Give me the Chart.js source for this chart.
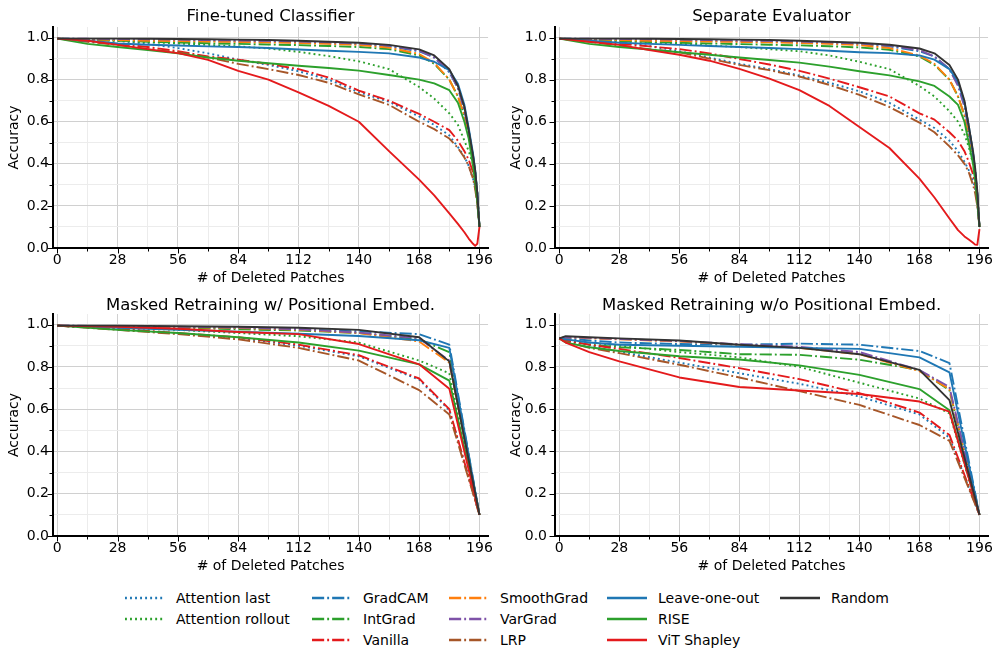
<!DOCTYPE html>
<html>
<head>
<meta charset="utf-8">
<script src="https://cdn.jsdelivr.net/npm/chart.js@4/dist/chart.umd.min.js"></script>
<style>
  html, body { margin: 0; padding: 0; background: #fff; }
  #page { position: relative; width: 997px; height: 648px; overflow: hidden; font-family: "DejaVu Sans", sans-serif; }
  canvas { position: absolute; }
  .leg { position: absolute; height: 20px; display: flex; align-items: center; font-size: 14px; color: #000; white-space: nowrap; }
  .leg svg { margin-right: 11px; }
</style>
</head>
<body>
<div id="page">
  <canvas id="c1" width="497" height="290" style="left:0;top:0"></canvas>
  <canvas id="c2" width="500" height="290" style="left:497px;top:0"></canvas>
  <canvas id="c3" width="497" height="290" style="left:0;top:290px"></canvas>
  <canvas id="c4" width="500" height="290" style="left:497px;top:290px"></canvas>
  <div id="legend"></div>
</div>
<script>
// methods, in plotting order
const methods = ['Attention last', 'Attention rollout', 'GradCAM', 'IntGrad', 'Vanilla', 'SmoothGrad',
  'VarGrad', 'LRP', 'Leave-one-out', 'RISE', 'ViT Shapley', 'Random'];

const xTickValues = [0, 14, 28, 42, 56, 70, 84, 98, 112, 126, 140, 154, 168, 182, 196];
const yTickValues = [0, 0.1, 0.2, 0.3, 0.4, 0.5, 0.6, 0.7, 0.8, 0.9, 1.0];

// patch counts where accuracy was read
const patchesTop = [0, 14, 28, 42, 56, 70, 84, 98, 112, 126, 140, 154, 168, 175, 182, 186, 189, 191, 193, 194, 195, 196];
const patchesMaskedPos = [0, 28, 56, 84, 112, 140, 168, 182, 196];
const patchesMaskedNoPos = [0, 3, 14, 28, 56, 84, 112, 140, 168, 182, 196];

// Fine-tuned Classifier
const ftAttnLast = [0.995, 0.99, 0.985, 0.97, 0.95, 0.925, 0.895, 0.87, 0.84, 0.8, 0.74, 0.695, 0.625, 0.585, 0.535, 0.48, 0.435, 0.39, 0.33, 0.29, 0.22, 0.1];
const ftAttnRollout = [0.995, 0.99, 0.985, 0.978, 0.972, 0.965, 0.958, 0.948, 0.932, 0.912, 0.887, 0.85, 0.765, 0.71, 0.64, 0.585, 0.51, 0.46, 0.4, 0.33, 0.24, 0.1];
const ftGradCam = [0.995, 0.993, 0.99, 0.988, 0.986, 0.984, 0.982, 0.98, 0.977, 0.973, 0.968, 0.958, 0.935, 0.905, 0.835, 0.76, 0.66, 0.56, 0.44, 0.36, 0.26, 0.1];
const ftIntGrad = [0.995, 0.99, 0.985, 0.98, 0.976, 0.973, 0.97, 0.967, 0.964, 0.96, 0.955, 0.945, 0.915, 0.875, 0.8, 0.72, 0.63, 0.54, 0.43, 0.36, 0.26, 0.1];
const ftVanilla = [0.995, 0.985, 0.97, 0.955, 0.935, 0.91, 0.895, 0.875, 0.85, 0.81, 0.748, 0.7, 0.637, 0.6, 0.56, 0.51, 0.46, 0.42, 0.36, 0.3, 0.22, 0.1];
const ftSmoothGrad = [0.995, 0.992, 0.988, 0.985, 0.983, 0.981, 0.979, 0.977, 0.974, 0.97, 0.965, 0.952, 0.922, 0.88, 0.8, 0.72, 0.63, 0.54, 0.43, 0.35, 0.25, 0.1];
const ftVarGrad = [0.995, 0.994, 0.993, 0.992, 0.99, 0.988, 0.986, 0.984, 0.981, 0.977, 0.972, 0.962, 0.938, 0.905, 0.84, 0.76, 0.655, 0.55, 0.43, 0.36, 0.26, 0.1];
const ftLrp = [0.995, 0.98, 0.965, 0.945, 0.93, 0.905, 0.875, 0.85, 0.822, 0.785, 0.73, 0.68, 0.6, 0.565, 0.52, 0.475, 0.43, 0.39, 0.33, 0.28, 0.21, 0.1];
const ftLeaveOneOut = [0.995, 0.985, 0.972, 0.966, 0.962, 0.958, 0.955, 0.95, 0.943, 0.937, 0.932, 0.925, 0.905, 0.885, 0.845, 0.78, 0.68, 0.57, 0.45, 0.37, 0.26, 0.1];
const ftRise = [0.995, 0.97, 0.955, 0.94, 0.925, 0.905, 0.89, 0.878, 0.866, 0.855, 0.843, 0.822, 0.8, 0.782, 0.75, 0.69, 0.6, 0.52, 0.39, 0.31, 0.22, 0.1];
const ftVitShapley = [0.995, 0.985, 0.965, 0.945, 0.926, 0.894, 0.842, 0.8, 0.74, 0.675, 0.6, 0.46, 0.325, 0.25, 0.165, 0.115, 0.075, 0.045, 0.02, 0.01, 0.02, 0.1];
const ftRandom = [0.995, 0.995, 0.995, 0.994, 0.993, 0.992, 0.99, 0.988, 0.985, 0.98, 0.975, 0.965, 0.944, 0.915, 0.85, 0.77, 0.67, 0.56, 0.44, 0.37, 0.26, 0.1];

// Separate Evaluator
const seAttnLast = [0.995, 0.99, 0.98, 0.96, 0.935, 0.905, 0.875, 0.85, 0.82, 0.785, 0.745, 0.69, 0.61, 0.57, 0.51, 0.46, 0.41, 0.37, 0.32, 0.28, 0.21, 0.1];
const seAttnRollout = [0.995, 0.99, 0.985, 0.977, 0.97, 0.962, 0.955, 0.945, 0.935, 0.915, 0.885, 0.85, 0.77, 0.72, 0.65, 0.6, 0.54, 0.48, 0.4, 0.33, 0.24, 0.1];
const seGradCam = [0.995, 0.993, 0.99, 0.988, 0.986, 0.984, 0.982, 0.98, 0.977, 0.973, 0.968, 0.958, 0.935, 0.91, 0.85, 0.78, 0.69, 0.58, 0.45, 0.37, 0.26, 0.1];
const seIntGrad = [0.995, 0.99, 0.984, 0.979, 0.975, 0.972, 0.969, 0.966, 0.963, 0.959, 0.953, 0.942, 0.91, 0.87, 0.8, 0.72, 0.63, 0.54, 0.43, 0.35, 0.25, 0.1];
const seVanilla = [0.995, 0.985, 0.97, 0.958, 0.945, 0.925, 0.898, 0.872, 0.842, 0.805, 0.764, 0.72, 0.64, 0.61, 0.55, 0.51, 0.46, 0.41, 0.35, 0.3, 0.22, 0.1];
const seSmoothGrad = [0.995, 0.992, 0.988, 0.985, 0.983, 0.981, 0.979, 0.977, 0.974, 0.97, 0.964, 0.95, 0.915, 0.875, 0.8, 0.72, 0.63, 0.54, 0.43, 0.35, 0.25, 0.1];
const seVarGrad = [0.995, 0.994, 0.993, 0.992, 0.99, 0.988, 0.986, 0.984, 0.981, 0.977, 0.972, 0.962, 0.94, 0.91, 0.85, 0.77, 0.67, 0.56, 0.44, 0.36, 0.26, 0.1];
const seLrp = [0.995, 0.98, 0.962, 0.945, 0.93, 0.9, 0.87, 0.845, 0.815, 0.775, 0.728, 0.67, 0.596, 0.55, 0.483, 0.44, 0.4, 0.36, 0.3, 0.26, 0.2, 0.1];
const seLeaveOneOut = [0.995, 0.985, 0.975, 0.97, 0.965, 0.96, 0.955, 0.95, 0.945, 0.937, 0.93, 0.926, 0.915, 0.895, 0.85, 0.79, 0.69, 0.58, 0.45, 0.36, 0.25, 0.1];
const seRise = [0.995, 0.97, 0.955, 0.943, 0.93, 0.918, 0.905, 0.893, 0.881, 0.862, 0.84, 0.82, 0.792, 0.77, 0.72, 0.68, 0.6, 0.5, 0.4, 0.32, 0.22, 0.1];
const seVitShapley = [0.995, 0.98, 0.965, 0.94, 0.918, 0.89, 0.851, 0.805, 0.75, 0.675, 0.575, 0.475, 0.33, 0.24, 0.14, 0.085, 0.055, 0.04, 0.025, 0.016, 0.015, 0.09];
const seRandom = [0.995, 0.995, 0.995, 0.994, 0.993, 0.992, 0.99, 0.988, 0.985, 0.98, 0.975, 0.966, 0.948, 0.925, 0.87, 0.8, 0.7, 0.58, 0.46, 0.38, 0.27, 0.1];

// Masked Retraining w/ Positional Embed.
const mpAttnLast = [0.995, 0.978, 0.958, 0.937, 0.9, 0.85, 0.74, 0.595, 0.1];
const mpAttnRollout = [0.995, 0.985, 0.975, 0.96, 0.945, 0.915, 0.83, 0.77, 0.1];
const mpGradCam = [0.995, 0.992, 0.988, 0.984, 0.978, 0.968, 0.955, 0.905, 0.1];
const mpIntGrad = [0.995, 0.99, 0.985, 0.978, 0.972, 0.96, 0.93, 0.87, 0.1];
const mpVanilla = [0.995, 0.98, 0.96, 0.94, 0.905, 0.855, 0.745, 0.6, 0.1];
const mpSmoothGrad = [0.995, 0.99, 0.988, 0.984, 0.976, 0.96, 0.92, 0.82, 0.1];
const mpVarGrad = [0.995, 0.993, 0.99, 0.986, 0.978, 0.962, 0.935, 0.83, 0.1];
const mpLrp = [0.995, 0.975, 0.955, 0.93, 0.89, 0.83, 0.69, 0.575, 0.1];
const mpLeaveOneOut = [0.995, 0.985, 0.975, 0.966, 0.957, 0.946, 0.926, 0.89, 0.1];
const mpRise = [0.995, 0.975, 0.96, 0.94, 0.915, 0.877, 0.812, 0.735, 0.1];
const mpVitShapley = [0.995, 0.99, 0.98, 0.965, 0.955, 0.908, 0.812, 0.697, 0.1];
const mpRandom = [0.995, 0.995, 0.992, 0.99, 0.985, 0.975, 0.94, 0.826, 0.1];

// Masked Retraining w/o Positional Embed.
const mnAttnLast = [0.935, 0.925, 0.9, 0.872, 0.82, 0.77, 0.72, 0.66, 0.575, 0.465, 0.1];
const mnAttnRollout = [0.935, 0.93, 0.915, 0.9, 0.87, 0.845, 0.8, 0.725, 0.65, 0.58, 0.1];
const mnGradCam = [0.935, 0.935, 0.925, 0.915, 0.908, 0.905, 0.91, 0.905, 0.875, 0.818, 0.1];
const mnIntGrad = [0.935, 0.925, 0.905, 0.893, 0.88, 0.86, 0.857, 0.834, 0.785, 0.69, 0.1];
const mnVanilla = [0.935, 0.925, 0.905, 0.885, 0.842, 0.794, 0.742, 0.676, 0.584, 0.478, 0.1];
const mnSmoothGrad = [0.935, 0.94, 0.935, 0.93, 0.92, 0.905, 0.89, 0.86, 0.78, 0.695, 0.1];
const mnVarGrad = [0.935, 0.94, 0.937, 0.932, 0.922, 0.907, 0.895, 0.87, 0.785, 0.705, 0.1];
const mnLrp = [0.935, 0.92, 0.89, 0.865, 0.81, 0.75, 0.685, 0.62, 0.525, 0.45, 0.1];
const mnLeaveOneOut = [0.935, 0.93, 0.915, 0.905, 0.9, 0.895, 0.89, 0.885, 0.845, 0.774, 0.1];
const mnRise = [0.935, 0.915, 0.893, 0.875, 0.85, 0.835, 0.807, 0.762, 0.695, 0.595, 0.1];
const mnVitShapley = [0.935, 0.915, 0.87, 0.826, 0.75, 0.705, 0.688, 0.672, 0.636, 0.588, 0.1];
const mnRandom = [0.935, 0.945, 0.94, 0.935, 0.925, 0.905, 0.89, 0.86, 0.786, 0.643, 0.1];

const BLUE = '#1f77b4', GREEN = '#2ca02c', RED = '#e41a1c', ORANGE = '#ff7f0e',
  PURPLE = '#7e52a8', BROWN = '#a65628', DARK = '#333333';
const colors = [BLUE, GREEN, BLUE, GREEN, RED, ORANGE, PURPLE, BROWN, BLUE, GREEN, RED, DARK];
const LW = 1.9;
const DOT = [LW, LW * 1.65];
const DASHDOT = [LW * 6.4, LW * 1.6, LW, LW * 1.6];
const dashes = [DOT, DOT, DASHDOT, DASHDOT, DASHDOT, DASHDOT, DASHDOT, DASHDOT, [], [], [], []];

Chart.defaults.font.family = '"DejaVu Sans", sans-serif';
Chart.defaults.color = '#000';

// matplotlib-like outward tick marks, long on labelled ticks, short on minor ones
const tickMarks = {
  id: 'tickMarks',
  afterDraw(chart) {
    const { ctx, chartArea: a, scales: { x, y } } = chart;
    ctx.save();
    ctx.strokeStyle = '#000';
    ctx.lineWidth = 1;
    ctx.beginPath();
    x.ticks.forEach(t => {
      const px = Math.round(x.getPixelForValue(t.value)) + 0.5;
      const len = t.value % 28 === 0 ? 4.5 : 2.5;
      ctx.moveTo(px, a.bottom + 1);
      ctx.lineTo(px, a.bottom + 1 + len);
    });
    y.ticks.forEach(t => {
      const py = Math.round(y.getPixelForValue(t.value)) + 0.5;
      const len = Math.round(t.value * 10) % 2 === 0 ? 4.5 : 2.5;
      ctx.moveTo(a.left - 1, py);
      ctx.lineTo(a.left - 1 - len, py);
    });
    ctx.stroke();
    ctx.restore();
  }
};

function makePanel(id, title, patches, series, g) {
  const datasets = series.map((vals, i) => ({
    label: methods[i],
    data: patches.map((p, k) => ({ x: p, y: vals[k] })),
    borderColor: colors[i],
    borderDash: dashes[i],
    borderWidth: LW,
    borderCapStyle: 'butt',
    borderJoinStyle: 'round',
    pointRadius: 0,
    tension: 0,
    fill: false,
    order: series.length - i
  }));

  return new Chart(document.getElementById(id), {
    type: 'line',
    data: { datasets },
    plugins: [tickMarks],
    options: {
      responsive: false,
      devicePixelRatio: 1,
      animation: false,
      layout: { padding: { left: 0, right: g.padRight, top: 0, bottom: 0 } },
      plugins: {
        legend: { display: false },
        tooltip: { enabled: false },
        title: {
          display: true,
          text: title,
          fullSize: false,
          font: { size: 16.5, weight: 'normal', lineHeight: 1.05 },
          color: '#000',
          padding: { top: g.titleTop, bottom: g.titleBottom }
        }
      },
      scales: {
        x: {
          type: 'linear',
          min: -2,
          max: 200,
          afterBuildTicks: s => { s.ticks = xTickValues.map(v => ({ value: v })); },
          afterFit: s => { s.height = g.xHeight; },
          ticks: {
            autoSkip: false,
            maxRotation: 0,
            padding: 4,
            font: { size: 14 },
            callback: v => (v % 28 === 0 ? String(v) : '')
          },
          grid: {
            drawTicks: false,
            lineWidth: 1,
            color: c => (c.tick && c.tick.value % 28 === 0 ? '#d0d0d0' : '#ececec')
          },
          border: { display: true, color: '#000', width: 2 },
          title: {
            display: true,
            text: '# of Deleted Patches',
            font: { size: 14 },
            padding: { top: 0, bottom: g.xTitleBottom }
          }
        },
        y: {
          type: 'linear',
          min: 0,
          max: 1.05,
          afterBuildTicks: s => { s.ticks = yTickValues.map(v => ({ value: v })); },
          afterFit: s => { s.width = g.yWidth; },
          ticks: {
            padding: g.yTickPad,
            font: { size: 14 },
            callback: v => (Math.round(v * 10) % 2 === 0 ? v.toFixed(1) : '')
          },
          grid: {
            drawTicks: false,
            lineWidth: 1,
            color: c => (c.tick && Math.round(c.tick.value * 10) % 2 === 0 ? '#d0d0d0' : '#ececec')
          },
          border: { display: true, color: '#000', width: 2 },
          title: {
            display: true,
            text: 'Accuracy',
            font: { size: 14 },
            padding: { top: g.yTitleTop, bottom: 0 }
          }
        }
      }
    }
  });
}

const leftGeom = { padRight: 7, yWidth: 53, yTickPad: 4, yTitleTop: 6 };
const rightGeom = { padRight: 5, yWidth: 58, yTickPad: 8, yTitleTop: 11 };
const topGeom = { titleTop: 8.3, titleBottom: 1.4, xHeight: 42, xTitleBottom: 3 };
const bottomGeom = { titleTop: 6.6, titleBottom: 0.1, xHeight: 44, xTitleBottom: 5.2 };

makePanel('c1', 'Fine-tuned Classifier', patchesTop,
  [ftAttnLast, ftAttnRollout, ftGradCam, ftIntGrad, ftVanilla, ftSmoothGrad, ftVarGrad, ftLrp, ftLeaveOneOut, ftRise, ftVitShapley, ftRandom],
  { ...leftGeom, ...topGeom });
makePanel('c2', 'Separate Evaluator', patchesTop,
  [seAttnLast, seAttnRollout, seGradCam, seIntGrad, seVanilla, seSmoothGrad, seVarGrad, seLrp, seLeaveOneOut, seRise, seVitShapley, seRandom],
  { ...rightGeom, ...topGeom });
makePanel('c3', 'Masked Retraining w/ Positional Embed.', patchesMaskedPos,
  [mpAttnLast, mpAttnRollout, mpGradCam, mpIntGrad, mpVanilla, mpSmoothGrad, mpVarGrad, mpLrp, mpLeaveOneOut, mpRise, mpVitShapley, mpRandom],
  { ...leftGeom, ...bottomGeom });
makePanel('c4', 'Masked Retraining w/o Positional Embed.', patchesMaskedNoPos,
  [mnAttnLast, mnAttnRollout, mnGradCam, mnIntGrad, mnVanilla, mnSmoothGrad, mnVarGrad, mnLrp, mnLeaveOneOut, mnRise, mnVitShapley, mnRandom],
  { ...rightGeom, ...bottomGeom });

// shared legend under the panels, filled column by column
const legendCol = [0, 0, 1, 1, 1, 2, 2, 2, 3, 3, 3, 4];
const legendRow = [0, 1, 0, 1, 2, 0, 1, 2, 0, 1, 2, 0];
const colLeft = [125, 312, 449, 607, 780];
const rowTop = [588, 609, 630];

const legend = document.getElementById('legend');
methods.forEach((name, i) => {
  const item = document.createElement('div');
  item.className = 'leg';
  item.style.left = colLeft[legendCol[i]] + 'px';
  item.style.top = rowTop[legendRow[i]] + 'px';
  const dash = dashes[i].length ? dashes[i].join(' ') : 'none';
  item.innerHTML = `<svg width="40" height="6"><line x1="0" y1="3" x2="40" y2="3" stroke="${colors[i]}" stroke-width="2.4" stroke-dasharray="${dash}"/></svg><span>${name}</span>`;
  legend.appendChild(item);
});
</script>
</body>
</html>
